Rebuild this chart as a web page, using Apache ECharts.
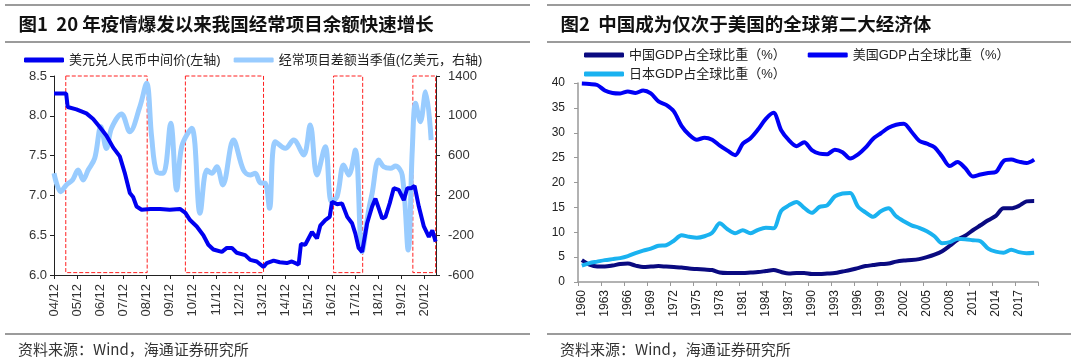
<!DOCTYPE html>
<html><head><meta charset="utf-8">
<script src="https://cdn.jsdelivr.net/npm/echarts@6/dist/echarts.min.js"></script>
<style>html,body{margin:0;padding:0;background:#fff}#c{width:1080px;height:361px}</style>
</head><body><div id="c"></div>
<script>
// ---- Left chart data (x = months since 2004/12) ----
const leftXTickLabels = ['04/12','05/12','06/12','07/12','08/12','09/12','10/12','11/12','12/12','13/12','14/12','15/12','16/12','17/12','18/12','19/12','20/12'];
const rmbMonths = [0,6.3,7.1,11.6,16.8,20.3,23.7,27.2,30.7,34.1,36.7,39.3,41.0,42.8,45.4,50,55,60,65.3,68.1,70.5,74.0,77.4,80.0,82.6,87.0,89.6,92.2,94.7,99.1,101.7,105.1,108.6,110.3,113.8,117,120.7,123.3,126.8,128.0,130.2,133.7,136.3,138.0,140.6,142.9,144.1,146.7,149.3,152.0,154.5,156.2,157.9,159.7,162.3,164.9,166.6,168.3,170.1,171.8,174.0,176.1,178.7,181.3,183.1,185.1,186.9,189.1,191.7,194.3,196.1,197.8];
const rmbValues = [8.28,8.28,8.11,8.08,8.03,7.96,7.86,7.75,7.60,7.49,7.28,7.03,6.98,6.86,6.82,6.83,6.83,6.82,6.83,6.78,6.69,6.61,6.50,6.38,6.32,6.29,6.34,6.34,6.28,6.25,6.19,6.17,6.10,6.15,6.18,6.16,6.15,6.17,6.13,6.39,6.38,6.54,6.46,6.62,6.69,6.73,6.92,6.89,6.90,6.73,6.65,6.52,6.34,6.29,6.65,6.86,6.96,6.84,6.71,6.73,6.90,7.09,7.07,6.94,7.09,7.09,7.12,6.86,6.61,6.48,6.56,6.42];
const caMonths = [0,3.5,6.4,9.6,12.5,15.1,17.7,21.1,24.3,27.2,29.8,35.0,39.3,44.5,48.0,50.6,53.2,56.6,60.5,63.6,66.2,71.4,75.7,79.2,81.8,84.4,87.5,93.0,98.2,101.7,104.3,106.9,109.5,111.7,114.7,119.9,124.2,129.4,132.8,136.3,140.6,143.8,146.7,150.1,152.8,156.2,159.7,163.1,164.9,168.3,170.9,174.4,177.0,180.5,183.6,185.7,187.4,189.9,192.6,195.5];
const caValues = [422,237,305,355,455,355,455,573,890,672,874,1018,840,1091,1327,790,438,422,925,254,690,874,20,455,422,488,305,757,455,405,422,328,322,70,740,673,757,606,908,405,690,140,187,505,405,656,-366,53,221,556,488,472,495,405,-349,656,1126,941,1242,757];
// highlighted periods [startMonth, endMonth]
const boxStarts = [6.1, 68.1, 144.9, 186.0];
const boxEnds   = [48.3, 108.6, 160.0, 197.8];

// ---- Right chart data ----
const years = ['1960','1961','1962','1963','1964','1965','1966','1967','1968','1969','1970','1971','1972','1973','1974','1975','1976','1977','1978','1979','1980','1981','1982','1983','1984','1985','1986','1987','1988','1989','1990','1991','1992','1993','1994','1995','1996','1997','1998','1999','2000','2001','2002','2003','2004','2005','2006','2007','2008','2009','2010','2011','2012','2013','2014','2015','2016','2017','2018','2019'];
const chinaShare = [4.4,3.5,3.1,3.1,3.3,3.6,3.7,3.3,3.0,3.1,3.2,3.1,3.0,2.9,2.7,2.6,2.5,2.4,1.9,1.8,1.8,1.8,1.9,2.0,2.2,2.4,2.0,1.7,1.8,1.8,1.6,1.6,1.7,1.8,2.1,2.4,2.8,3.2,3.4,3.6,3.7,4.1,4.3,4.4,4.6,5.0,5.5,6.2,7.3,8.5,9.3,10.4,11.4,12.4,13.3,14.8,14.8,15.3,16.2,16.3];
const usShare = [39.9,39.8,39.6,38.5,38.0,37.9,38.3,38.0,38.5,37.9,36.3,35.6,34.3,31.4,29.6,28.6,29.0,28.6,27.4,26.4,25.5,27.8,28.9,30.7,32.8,34.0,30.5,28.5,27.3,28.1,26.5,25.8,25.7,26.6,26.1,24.8,25.6,27.0,28.8,29.9,31.0,31.6,31.8,30.2,28.4,27.8,27.1,25.2,23.3,24.1,22.9,21.2,21.6,21.9,22.1,24.3,24.6,24.2,23.9,24.6];
const japanShare = [3.3,3.8,4.1,4.4,4.6,4.8,5.2,5.8,6.3,6.7,7.3,7.4,8.3,9.4,9.1,8.9,9.2,9.9,11.8,10.6,9.8,10.4,9.8,10.5,10.9,10.8,14.3,15.4,16.1,14.9,13.9,15.1,15.4,17.2,17.8,17.9,15.2,14.0,13.1,14.2,14.8,13.2,12.2,11.4,10.9,10.2,9.2,7.8,8.0,8.7,8.6,8.4,8.2,6.7,6.1,5.9,6.5,6.0,5.8,5.9];

const LAT = "'Liberation Sans','Noto Sans CJK SC',sans-serif";
const CJK = "'Noto Sans CJK SC','Liberation Sans',sans-serif";
const zip = (a, b) => a.map((v, i) => [v, b[i]]);

const chart = echarts.init(document.getElementById('c'), null, {renderer: 'canvas'});
const ruleStyle = {stroke: '#7a7a7a', lineWidth: 1.5};
function rule(x1, x2, y) { return {type: 'line', silent: true, shape: {x1, y1: y, x2, y2: y}, style: ruleStyle}; }
function txt(x, y, text, font, fill) { return {type: 'text', silent: true, x, y, style: {text, font, fill, verticalAlign: 'middle', align: 'left'}}; }

const option = {
  backgroundColor: '#fff',
  animation: false,
  graphic: [
    rule(5, 530, 5), rule(5, 530, 42), rule(5, 530, 334),
    rule(547, 1071, 5), rule(547, 1071, 42), rule(547, 1071, 334),
    txt(18.5, 24, '图1  20 年疫情爆发以来我国经常项目余额快速增长', 'bold 18.5px ' + CJK, '#111'),
    txt(560.5, 24, '图2  中国成为仅次于美国的全球第二大经济体', 'bold 18.5px ' + CJK, '#111'),
    txt(18, 349, '资料来源：Wind，海通证券研究所', '15px ' + CJK, '#333'),
    txt(560, 349, '资料来源：Wind，海通证券研究所', '15px ' + CJK, '#333')
  ],
  legend: [
    {left: 24, top: 53, padding: 0, itemWidth: 40, itemHeight: 5, itemGap: 13, icon: 'roundRect',
     data: ['美元兑人民币中间价(左轴)', '经常项目差额当季值(亿美元，右轴)'],
     textStyle: {fontSize: 13, fontFamily: LAT, color: '#222', lineHeight: 14}},
    {left: 584, top: 48, padding: 0, itemWidth: 40, itemHeight: 5, itemGap: 22, icon: 'roundRect',
     data: ['中国GDP占全球比重（%）', '美国GDP占全球比重（%）'],
     textStyle: {fontSize: 13, fontFamily: LAT, color: '#222', lineHeight: 14}},
    {left: 584, top: 67, padding: 0, itemWidth: 40, itemHeight: 5, icon: 'roundRect',
     data: ['日本GDP占全球比重（%）'],
     textStyle: {fontSize: 13, fontFamily: LAT, color: '#222', lineHeight: 14}}
  ],
  grid: [
    {left: 54, top: 76, width: 382, height: 199},
    {left: 578, top: 83, width: 460, height: 199}
  ],
  xAxis: [
    {type: 'value', gridIndex: 0, min: 0, max: 198, interval: 12,
     axisLine: {onZero: false, lineStyle: {color: '#222', width: 1}},
     axisTick: {show: true, length: 4, lineStyle: {color: '#222'}},
     splitLine: {show: false},
     axisLabel: {rotate: 90, margin: 9, fontSize: 13, fontFamily: LAT, color: '#333', showMaxLabel: false,
       formatter: v => (v % 12 === 0 ? (leftXTickLabels[v / 12] || '') : '')}},
    {type: 'category', gridIndex: 1, data: years, boundaryGap: true,
     axisLine: {onZero: false, lineStyle: {color: '#999', width: 1.5}},
     axisTick: {show: true, interval: 2, length: 4, lineStyle: {color: '#999'}},
     axisLabel: {interval: 2, rotate: 90, margin: 8, fontSize: 12, fontFamily: LAT, color: '#222'}}
  ],
  yAxis: [
    {type: 'value', gridIndex: 0, min: 6.0, max: 8.5, interval: 0.5, position: 'left',
     axisLine: {show: true, onZero: false, lineStyle: {color: '#222', width: 1}},
     axisTick: {show: true, length: 4, lineStyle: {color: '#222'}},
     splitLine: {show: false},
     axisLabel: {margin: 7, fontSize: 13, fontFamily: LAT, color: '#333', formatter: v => v.toFixed(1)}},
    {type: 'value', gridIndex: 0, min: -600, max: 1400, interval: 400, position: 'right',
     axisLine: {show: true, onZero: false, lineStyle: {color: '#222', width: 1}},
     axisTick: {show: true, length: 4, lineStyle: {color: '#222'}},
     splitLine: {show: false},
     axisLabel: {margin: 12, fontSize: 13, fontFamily: LAT, color: '#333', formatter: v => String(v)}},
    {type: 'value', gridIndex: 1, min: 0, max: 40, interval: 5,
     axisLine: {show: true, onZero: false, lineStyle: {color: '#999', width: 1.5}},
     axisTick: {show: true, length: 4, lineStyle: {color: '#999'}},
     splitLine: {show: false},
     axisLabel: {margin: 13, fontSize: 12, fontFamily: LAT, color: '#222'}}
  ],
  series: [
    {name: '经常项目差额当季值(亿美元，右轴)', type: 'line', xAxisIndex: 0, yAxisIndex: 1,
     data: zip(caMonths, caValues), smooth: 0.35, showSymbol: false, symbol: 'none',
     lineStyle: {color: '#99CCFF', width: 5}, itemStyle: {color: '#99CCFF'}, z: 2},
    {name: '美元兑人民币中间价(左轴)', type: 'line', xAxisIndex: 0, yAxisIndex: 0,
     data: zip(rmbMonths, rmbValues), showSymbol: false, symbol: 'none',
     lineStyle: {color: '#0000F0', width: 4}, itemStyle: {color: '#0000F0'}, z: 3,
     markArea: {silent: true, label: {show: false},
       itemStyle: {color: 'rgba(0,0,0,0)', borderColor: '#FF2020', borderWidth: 1, borderType: [4, 2]},
       data: boxStarts.map((s, i) => [{xAxis: s, yAxis: 8.5}, {xAxis: boxEnds[i], yAxis: 6.03}])}},
    {name: '中国GDP占全球比重（%）', type: 'line', xAxisIndex: 1, yAxisIndex: 2,
     data: chinaShare, smooth: 0.3, showSymbol: false, symbol: 'none',
     lineStyle: {color: '#0A0A80', width: 4}, itemStyle: {color: '#0A0A80'}},
    {name: '美国GDP占全球比重（%）', type: 'line', xAxisIndex: 1, yAxisIndex: 2,
     data: usShare, smooth: 0.3, showSymbol: false, symbol: 'none',
     lineStyle: {color: '#0000F5', width: 4}, itemStyle: {color: '#0000F5'}},
    {name: '日本GDP占全球比重（%）', type: 'line', xAxisIndex: 1, yAxisIndex: 2,
     data: japanShare, smooth: 0.3, showSymbol: false, symbol: 'none',
     lineStyle: {color: '#1AB2F0', width: 4}, itemStyle: {color: '#1AB2F0'}}
  ]
};
chart.setOption(option);
</script>
</body></html>
